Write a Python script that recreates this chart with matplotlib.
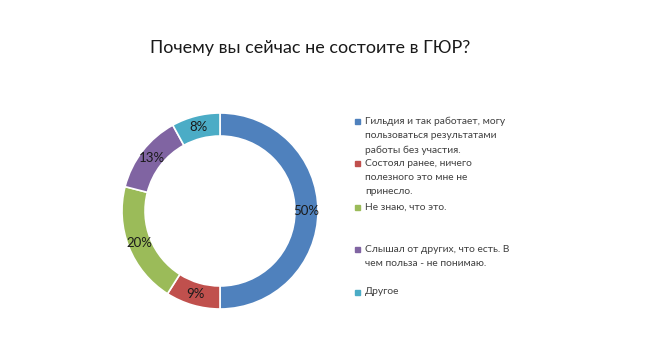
import matplotlib.pyplot as plt

# данные диаграммы
answers = [
    "Гильдия и так работает, могу\nпользоваться результатами\nработы без участия.",
    "Состоял ранее, ничего\nполезного это мне не\nпринесло.",
    "Не знаю, что это.",
    "Слышал от других, что есть. В\nчем польза - не понимаю.",
    "Другое",
]
shares = [50, 9, 20, 13, 8]
colors = ["#4F81BD", "#C0504D", "#9BBB59", "#8064A2", "#4BACC6"]

plt.rcParams['font.family'] = ['Lato', 'DejaVu Sans']

fig = plt.figure(figsize=(6.5, 3.54), dpi=100)
fig.patch.set_facecolor("white")

fig.text(310 / 650, 1 - 48 / 354, "Почему вы сейчас не состоите в ГЮР?",
         ha="center", va="center", fontsize=13, color="#1a1a1a")

ax = fig.add_axes([(220 - 98) / 650, (354 - 211 - 98) / 354, 196 / 650, 196 / 354])
wedges, texts, autotexts = ax.pie(
    shares, colors=colors, startangle=90, counterclock=False,
    autopct="%d%%", pctdistance=0.885,
    wedgeprops=dict(width=0.235, edgecolor="white", linewidth=1.2),
    textprops=dict(fontsize=9.5, color="#1a1a1a"))
ax.set_xlim(-1, 1)
ax.set_ylim(-1, 1)
ax.set_aspect("equal")

# легенда справа
legend_y = [121, 163, 207, 249, 292]
for name, col, y in zip(answers, colors, legend_y):
    fig.patches.append(plt.Rectangle((355 / 650, 1 - (y + 3) / 354), 5 / 650, 5 / 354,
                                     transform=fig.transFigure, color=col, figure=fig))
    fig.text(365 / 650, 1 - (y - 4.5) / 354, name, ha="left", va="top",
             fontsize=7.4, color="#404040", linespacing=1.75)

fig.savefig("out.png", dpi=100, facecolor="white")
